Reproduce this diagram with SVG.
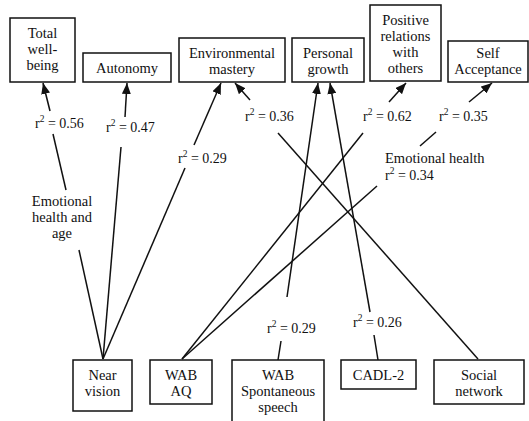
<svg xmlns="http://www.w3.org/2000/svg" width="529" height="421" viewBox="0 0 529 421">
  <style>
    .box { fill: #fff; stroke: #111; stroke-width: 1.5; }
    .t { font-family: "Liberation Serif", "Times New Roman", serif; font-size: 14.5px; fill: #111; text-anchor: middle; }
    .tl { font-family: "Liberation Serif", "Times New Roman", serif; font-size: 14px; fill: #111; }
    .el { font-family: "Liberation Serif", "Times New Roman", serif; font-size: 14.5px; fill: #111; }
    .sup { font-size: 9.5px; }
    .c { stroke: #111; stroke-width: 1.5; fill: none; }
    .a { marker-end: url(#arrow); }
  </style>
  <defs>
    <marker id="arrow" markerUnits="userSpaceOnUse" markerWidth="12" markerHeight="9" refX="11" refY="4.5" orient="auto">
      <path d="M0,0 L11,4.5 L0,9 z" fill="#111"/>
    </marker>
  </defs>
  <rect width="529" height="421" fill="#fff"/>

  <!-- outcome nodes (top row) -->
  <g id="total-wellbeing">
    <rect class="box" x="10" y="18" width="65" height="64"/>
    <text class="t" x="42.5" y="38">Total</text>
    <text class="t" x="42.5" y="54">well-</text>
    <text class="t" x="42.5" y="70">being</text>
  </g>
  <g id="autonomy">
    <rect class="box" x="83" y="53" width="88" height="29"/>
    <text class="t" x="127" y="73">Autonomy</text>
  </g>
  <g id="environmental-mastery">
    <rect class="box" x="179" y="38" width="106" height="44"/>
    <text class="t" x="232" y="58">Environmental</text>
    <text class="t" x="232" y="74">mastery</text>
  </g>
  <g id="personal-growth">
    <rect class="box" x="292" y="38" width="72" height="44"/>
    <text class="t" x="328" y="58">Personal</text>
    <text class="t" x="328" y="74">growth</text>
  </g>
  <g id="positive-relations">
    <rect class="box" x="370" y="5" width="71" height="76"/>
    <text class="t" x="405.5" y="25">Positive</text>
    <text class="t" x="405.5" y="41">relations</text>
    <text class="t" x="405.5" y="57">with</text>
    <text class="t" x="405.5" y="73">others</text>
  </g>
  <g id="self-acceptance">
    <rect class="box" x="448" y="41" width="80" height="41"/>
    <text class="t" x="488" y="58">Self</text>
    <text class="t" x="488" y="74">Acceptance</text>
  </g>

  <!-- predictor nodes (bottom row) -->
  <g id="near-vision">
    <rect class="box" x="73" y="360" width="59" height="51"/>
    <text class="t" x="102.5" y="380">Near</text>
    <text class="t" x="102.5" y="396">vision</text>
  </g>
  <g id="wab-aq">
    <rect class="box" x="150" y="360" width="62" height="44"/>
    <text class="t" x="181" y="380">WAB</text>
    <text class="t" x="181" y="396">AQ</text>
  </g>
  <g id="wab-spontaneous-speech">
    <rect class="box" x="232" y="360" width="92" height="66"/>
    <text class="t" x="278" y="380">WAB</text>
    <text class="t" x="278" y="396">Spontaneous</text>
    <text class="t" x="278" y="412">speech</text>
  </g>
  <g id="cadl-2">
    <rect class="box" x="341" y="360" width="75" height="29"/>
    <text class="t" x="378.5" y="380">CADL-2</text>
  </g>
  <g id="social-network">
    <rect class="box" x="434" y="360" width="90" height="44"/>
    <text class="t" x="479" y="380">Social</text>
    <text class="t" x="479" y="396">network</text>
  </g>

  <!-- connectors, broken where a label sits on the line -->
  <g id="connectors">
    <line class="c" x1="103" y1="359" x2="79" y2="250"/>
    <line class="c" x1="66" y1="190" x2="53" y2="134"/>
    <line class="c a" x1="50" y1="111" x2="43" y2="83"/>

    <line class="c" x1="103" y1="359" x2="121" y2="147"/>
    <line class="c a" x1="125" y1="117" x2="127" y2="83"/>

    <line class="c" x1="103" y1="359" x2="185" y2="168"/>
    <line class="c a" x1="194" y1="145" x2="221" y2="83"/>

    <line class="c" x1="478" y1="359" x2="278" y2="133"/>
    <line class="c a" x1="250" y1="100" x2="235" y2="83"/>

    <line class="c" x1="278" y1="360" x2="281" y2="341"/>
    <line class="c a" x1="287" y1="297" x2="318" y2="83"/>

    <line class="c" x1="378" y1="360" x2="374" y2="335"/>
    <line class="c a" x1="370" y1="312" x2="330" y2="83"/>

    <line class="c" x1="182" y1="359" x2="363" y2="133"/>
    <line class="c a" x1="389" y1="102" x2="406" y2="83"/>

    <line class="c" x1="182" y1="359" x2="377" y2="186"/>
    <line class="c" x1="420" y1="146" x2="436" y2="132"/>
    <line class="c a" x1="469" y1="102" x2="492" y2="83"/>
  </g>

  <!-- connector labels -->
  <g id="labels">
    <text class="tl" x="35" y="128">r<tspan class="sup" dy="-6">2</tspan><tspan dy="6"> = 0.56</tspan></text>
    <text class="tl" x="106" y="132">r<tspan class="sup" dy="-6">2</tspan><tspan dy="6"> = 0.47</tspan></text>
    <text class="tl" x="178" y="163">r<tspan class="sup" dy="-6">2</tspan><tspan dy="6"> = 0.29</tspan></text>
    <text class="tl" x="245" y="121">r<tspan class="sup" dy="-6">2</tspan><tspan dy="6"> = 0.36</tspan></text>
    <text class="tl" x="363" y="121">r<tspan class="sup" dy="-6">2</tspan><tspan dy="6"> = 0.62</tspan></text>
    <text class="tl" x="439" y="121">r<tspan class="sup" dy="-6">2</tspan><tspan dy="6"> = 0.35</tspan></text>
    <text class="t" x="62" y="206">Emotional</text>
    <text class="t" x="62" y="222">health and</text>
    <text class="t" x="62" y="238">age</text>
    <text class="el" x="385" y="163">Emotional health</text>
    <text class="tl" x="385" y="180">r<tspan class="sup" dy="-6">2</tspan><tspan dy="6"> = 0.34</tspan></text>
    <text class="tl" x="267" y="333">r<tspan class="sup" dy="-6">2</tspan><tspan dy="6"> = 0.29</tspan></text>
    <text class="tl" x="353" y="327">r<tspan class="sup" dy="-6">2</tspan><tspan dy="6"> = 0.26</tspan></text>
  </g>
</svg>
